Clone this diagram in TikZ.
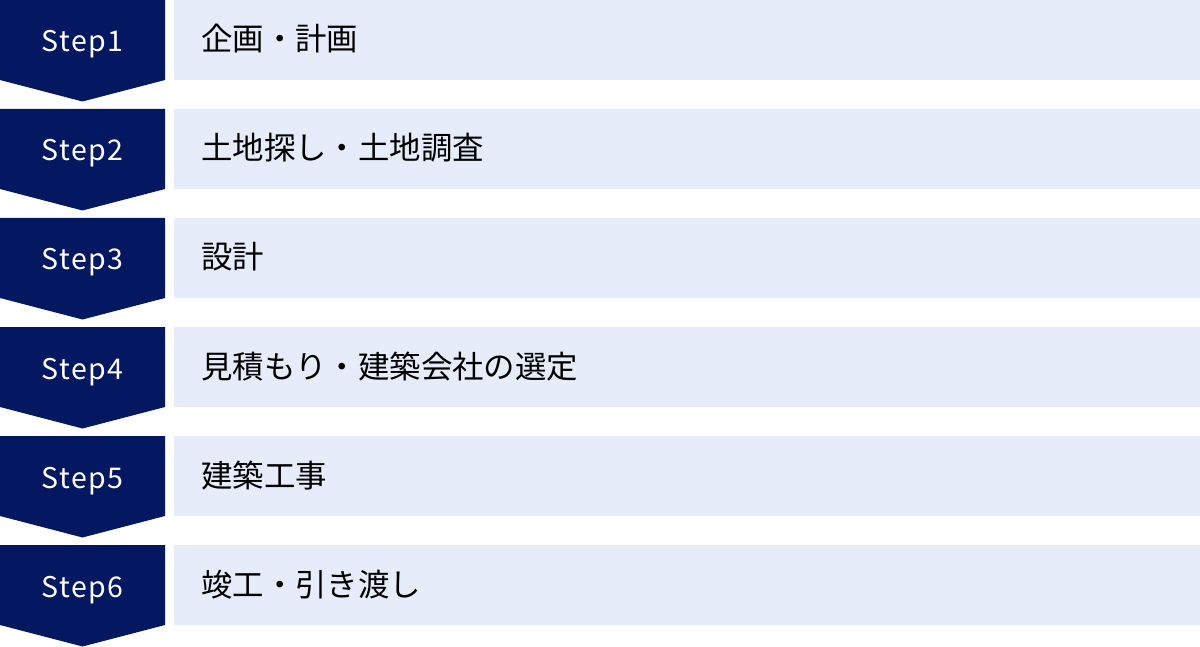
\documentclass[tikz,border=0pt]{standalone}
\usepackage{fontspec}
\newfontfamily\jp{Noto Sans CJK JP}
\newfontfamily\stepfont[LetterSpace=5]{Noto Sans CJK JP}
\definecolor{navy}{RGB}{4,24,98}
\definecolor{barblue}{RGB}{230,236,250}
\begin{document}
\begin{tikzpicture}[x=1pt,y=-1pt,
  chev/.style={fill=navy,draw=none},
  bar/.style={fill=barblue,draw=none},
  steplabel/.style={text=white,inner sep=0pt,anchor=base,font=\stepfont\fontsize{28.5}{34}\selectfont},
  itemlabel/.style={text=black,inner sep=0pt,anchor=base west,font=\jp\fontsize{31.4}{37}\selectfont}]
\useasboundingbox (0,0) rectangle (1200,647);
\foreach \i/\t in {1/企画・計画,2/土地探し・土地調査,3/設計,4/見積もり・建築会社の選定,5/建築工事,6/竣工・引き渡し}{
  \pgfmathsetmacro{\y}{109*(\i-1)}
  \fill[chev] (0,\y) -- (165,\y) -- (165,\y+80) -- (82.5,\y+101.5) -- (0,\y+80) -- cycle;
  \fill[bar] (174,\y) rectangle (1200,\y+80);
  \node[steplabel] (s\i) at (82.5,\y+52) {Step\i};
  \node[itemlabel] (t\i) at (201,\y+51) {\t};
}
\end{tikzpicture}
\end{document}
